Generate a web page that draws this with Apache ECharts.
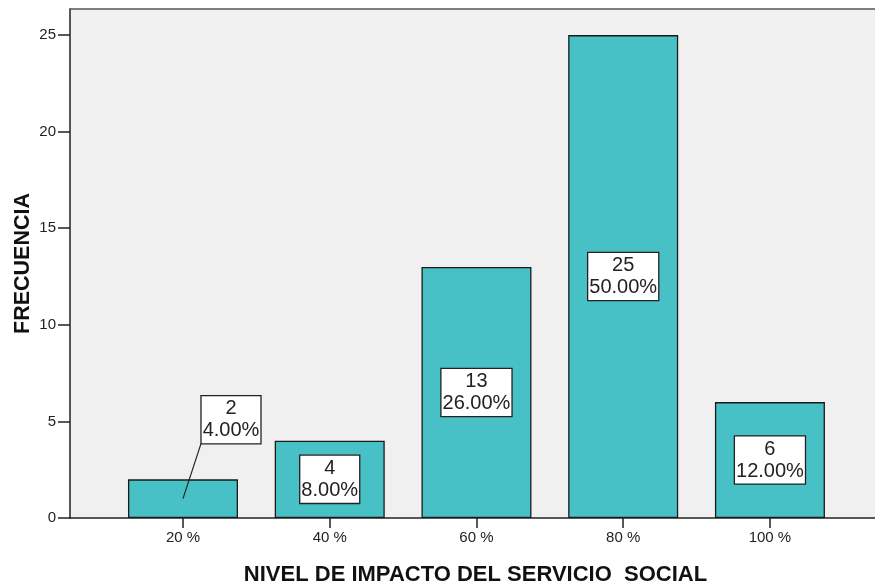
<!DOCTYPE html>
<html>
<head>
<meta charset="utf-8">
<script src="https://cdn.jsdelivr.net/npm/echarts@6/dist/echarts.min.js"></script>
<style>
html,body{margin:0;padding:0;background:#fff;}
#c{width:875px;height:586px;}
</style>
</head>
<body>
<div id="c"></div>
<script>
var categories = ['20 %', '40 %', '60 %', '80 %', '100 %'];
var frequencies = [2, 4, 13, 25, 6];
var percents = ['4.00%', '8.00%', '26.00%', '50.00%', '12.00%'];
var yTicks = [0, 5, 10, 15, 20, 25];

var positions = categories.map(function (c, i) { return i + 1; });
var barData = frequencies.map(function (v, i) { return [positions[i], v]; });

// label of the first (short) bar sits outside, joined to the bar by a leader line
var outsideShift = [48, -79];

var font = "'Liberation Sans', Arial, sans-serif";
var chart = echarts.init(document.getElementById('c'));
chart.setOption({
  animation: false,
  grid: {
    left: 70, right: 0, top: 9, bottom: 68,
    show: true, backgroundColor: '#f0f0f0',
    borderWidth: 0,
    containLabel: false,
    outerBoundsMode: 'none'
  },
  xAxis: [{
    type: 'value',
    min: 0.230, max: 5.716,
    name: 'NIVEL DE IMPACTO DEL SERVICIO  SOCIAL',
    nameLocation: 'middle',
    nameGap: 46,
    nameTextStyle: { fontFamily: font, fontWeight: 'bold', fontSize: 22, color: '#111', padding: [0, 0, 0, 6] },
    splitLine: { show: false },
    axisLine: { show: true, onZero: false, lineStyle: { color: '#222', width: 1.5 } },
    axisTick: { show: true, length: 10, customValues: positions, lineStyle: { color: '#222', width: 1.5 } },
    axisLabel: {
      customValues: positions,
      margin: 12,
      fontFamily: font, fontSize: 15, color: '#222',
      formatter: function (v) { return categories[Math.round(v) - 1] || ''; }
    }
  }, {
    type: 'value',
    position: 'top',
    min: 0.230, max: 5.716,
    splitLine: { show: false },
    axisLine: { show: true, onZero: false, lineStyle: { color: '#555', width: 1.5 } },
    axisTick: { show: false },
    axisLabel: { show: false }
  }],
  yAxis: {
    type: 'value',
    min: 0, max: 26.35,
    name: 'FRECUENCIA',
    nameLocation: 'middle',
    nameRotate: 90,
    nameGap: 36,
    nameMoveOverlap: false,
    nameTextStyle: { fontFamily: font, fontWeight: 'bold', fontSize: 21.5, color: '#111' },
    splitLine: { show: false },
    axisLine: { show: true, lineStyle: { color: '#222', width: 1.5 } },
    axisTick: { show: true, length: 12, customValues: yTicks, lineStyle: { color: '#222', width: 1.5 } },
    axisLabel: {
      customValues: yTicks,
      margin: 14,
      fontFamily: font, fontSize: 15, color: '#222'
    }
  },
  series: [{
    type: 'bar',
    xAxisIndex: 0,
    barWidth: 110,
    data: barData,
    itemStyle: { color: '#48C1C6', borderColor: '#1a1a1a', borderWidth: 1.3 },
    label: {
      show: true,
      position: 'inside',
      fontFamily: font,
      fontSize: 20,
      lineHeight: 22,
      color: '#222',
      backgroundColor: '#fff',
      borderColor: '#222',
      borderWidth: 1.3,
      padding: [2, 1, 1, 1],
      align: 'center',
      formatter: function (p) { return p.value[1] + '\n' + percents[p.dataIndex]; }
    },
    labelLayout: function (params) {
      if (params.dataIndex === 0) {
        return { dx: outsideShift[0], dy: outsideShift[1] };
      }
      return {};
    }
  }, {
    type: 'custom',
    xAxisIndex: 0,
    silent: true,
    z: 5,
    data: [barData[0]],
    renderItem: function (params, api) {
      var c = api.coord([api.value(0), api.value(1) / 2]);
      return {
        type: 'line',
        shape: { x1: c[0], y1: c[1], x2: c[0] + outsideShift[0] - 30, y2: c[1] + outsideShift[1] + 24 },
        style: { stroke: '#222', lineWidth: 1.2 }
      };
    }
  }]
});
</script>
</body>
</html>
